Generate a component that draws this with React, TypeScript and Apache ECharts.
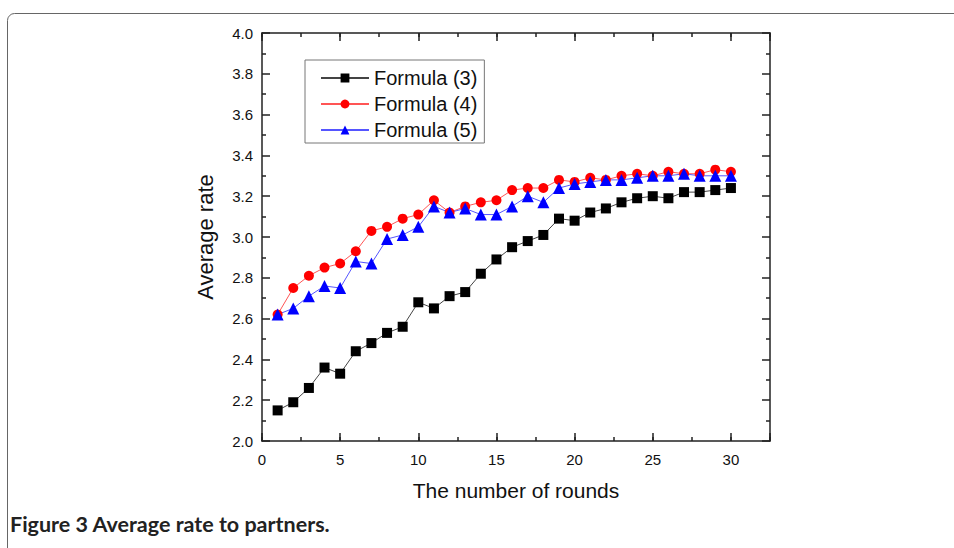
import React, { useEffect, useRef } from "react";
import * as echarts from "echarts";

const rounds = [1, 2, 3, 4, 5, 6, 7, 8, 9, 10, 11, 12, 13, 14, 15, 16, 17, 18, 19, 20, 21, 22, 23, 24, 25, 26, 27, 28, 29, 30];
const formula3 = [2.15, 2.19, 2.26, 2.36, 2.33, 2.44, 2.48, 2.53, 2.56, 2.68, 2.65, 2.71, 2.73, 2.82, 2.89, 2.95, 2.98, 3.01, 3.09, 3.08, 3.12, 3.14, 3.17, 3.19, 3.2, 3.19, 3.22, 3.22, 3.23, 3.24];
const formula4 = [2.62, 2.75, 2.81, 2.85, 2.87, 2.93, 3.03, 3.05, 3.09, 3.11, 3.18, 3.12, 3.15, 3.17, 3.18, 3.23, 3.24, 3.24, 3.28, 3.27, 3.29, 3.28, 3.3, 3.31, 3.3, 3.32, 3.31, 3.31, 3.33, 3.32];
const formula5 = [2.62, 2.65, 2.71, 2.76, 2.75, 2.88, 2.87, 2.99, 3.01, 3.05, 3.15, 3.12, 3.14, 3.11, 3.11, 3.15, 3.2, 3.17, 3.24, 3.26, 3.27, 3.28, 3.28, 3.29, 3.3, 3.3, 3.31, 3.3, 3.3, 3.3];
const seriesNames = ["Formula (3)", "Formula (4)", "Formula (5)"];
const xTitle = "The number of rounds";
const yTitle = "Average rate";
const caption = "Figure 3 Average rate to partners.";

const FONT = "'Liberation Sans', Arial, sans-serif";
const AXIS_COLOR = "#222";

export default function App() {
  const ref = useRef<HTMLDivElement>(null);
  useEffect(() => {
    if (!ref.current) return;
    const chart = echarts.init(ref.current, undefined, { renderer: "svg" });
    const pair = (arr: number[]) => rounds.map((r, i) => [r, arr[i]]);
    const baseX = {
      type: "value",
      min: 0,
      max: 32.5,
      splitLine: { show: false },
      axisLine: { show: true, onZero: false, lineStyle: { color: AXIS_COLOR, width: 1.5 } },
    };
    const baseY = {
      type: "value",
      min: 2,
      max: 4,
      interval: 0.2,
      splitLine: { show: false },
      axisLine: { show: true, onZero: false, lineStyle: { color: AXIS_COLOR, width: 1.5 } },
      axisTick: { show: true, inside: true, length: 8, lineStyle: { color: AXIS_COLOR, width: 1.5 } },
      minorTick: { show: true, splitNumber: 2, length: 4, lineStyle: { color: AXIS_COLOR, width: 1.5 } },
    };
    chart.setOption({
      animation: false,
      backgroundColor: "#fff",
      grid: { left: 262, top: 33, width: 508, height: 408, containLabel: false },
      legend: {
        orient: "vertical",
        left: 305,
        top: 60,
        data: seriesNames,
        itemWidth: 48,
        itemHeight: 11,
        itemGap: 6,
        padding: [8, 7, 3, 15],
        borderColor: "#777",
        borderWidth: 1,
        textStyle: { fontFamily: FONT, fontSize: 20, color: "#111" },
      },
      xAxis: [
        {
          ...baseX,
          position: "bottom",
          interval: 5,
          axisTick: { show: true, inside: true, length: 8, lineStyle: { color: AXIS_COLOR, width: 1.5 } },
          axisLabel: {
            show: true,
            margin: 11,
            fontFamily: FONT,
            fontSize: 15,
            color: "#111",
            formatter: (v: number) => (v % 5 === 0 ? String(v) : ""),
          },
          name: xTitle,
          nameLocation: "middle",
          nameGap: 39,
          nameTextStyle: { fontFamily: FONT, fontSize: 21, color: "#111" },
        },
        {
          ...baseX,
          position: "bottom",
          interval: 2.5,
          axisLine: { show: false },
          axisTick: { show: true, inside: true, length: 4, lineStyle: { color: AXIS_COLOR, width: 1.5 } },
          axisLabel: { show: false },
        },
        {
          ...baseX,
          position: "top",
          interval: 5,
          axisTick: { show: true, inside: true, length: 8, lineStyle: { color: AXIS_COLOR, width: 1.5 } },
          axisLabel: { show: false },
        },
        {
          ...baseX,
          position: "top",
          interval: 2.5,
          axisLine: { show: false },
          axisTick: { show: true, inside: true, length: 4, lineStyle: { color: AXIS_COLOR, width: 1.5 } },
          axisLabel: { show: false },
        },
      ],
      yAxis: [
        {
          ...baseY,
          position: "left",
          axisLabel: {
            show: true,
            margin: 9,
            fontFamily: FONT,
            fontSize: 15,
            color: "#111",
            formatter: (v: number) => v.toFixed(1),
          },
          name: yTitle,
          nameLocation: "middle",
          nameRotate: 90,
          nameGap: 46,
          nameTextStyle: { fontFamily: FONT, fontSize: 22, color: "#111" },
        },
        {
          ...baseY,
          position: "right",
          axisLabel: { show: false },
        },
      ],
      series: [
        {
          name: seriesNames[0],
          type: "line",
          xAxisIndex: 0,
          yAxisIndex: 0,
          data: pair(formula3),
          symbol: "rect",
          symbolSize: 10,
          itemStyle: { color: "#000" },
          lineStyle: { color: "#444", width: 1 },
        },
        {
          name: seriesNames[1],
          type: "line",
          xAxisIndex: 0,
          yAxisIndex: 0,
          data: pair(formula4),
          symbol: "circle",
          symbolSize: 10,
          itemStyle: { color: "#ff0000" },
          lineStyle: { color: "#ff5555", width: 1 },
        },
        {
          name: seriesNames[2],
          type: "line",
          xAxisIndex: 0,
          yAxisIndex: 0,
          data: pair(formula5),
          symbol: "triangle",
          symbolSize: 12,
          itemStyle: { color: "#0000ff" },
          lineStyle: { color: "#5555ff", width: 1 },
        },
      ],
      graphic: [
        {
          type: "rect",
          shape: { x: 7.5, y: 13.5, width: 980, height: 600, r: 7 },
          style: { fill: "none", stroke: "#666", lineWidth: 1 },
          silent: true,
        },
        {
          type: "text",
          left: 10,
          top: 513,
          style: {
            text: caption,
            fontFamily: "Lato, 'Open Sans', sans-serif",
            fontWeight: "bold",
            fontSize: 21.5,
            fill: "#222",
          },
        },
      ],
    });
    return () => chart.dispose();
  }, []);
  return (
    <div
      ref={ref}
      style={{ position: "fixed", left: 0, top: 0, width: 954, height: 548 }}
    />
  );
}
